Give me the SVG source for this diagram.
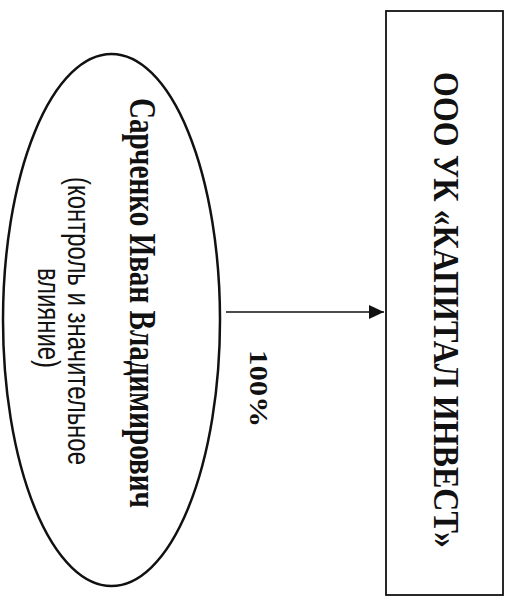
<svg xmlns="http://www.w3.org/2000/svg" width="509" height="600" viewBox="0 0 509 600">
  <style>
    .shape { fill: none; stroke: #111; }
    .bold { font-family: "Liberation Serif", "Times New Roman", serif; font-weight: bold; fill: #111; }
    .reg { font-family: "Liberation Sans", Arial, sans-serif; fill: #111; }
  </style>
  <defs>
    <marker id="arrow" markerWidth="16" markerHeight="14" refX="15" refY="7" orient="auto" markerUnits="userSpaceOnUse">
      <path d="M0,0 L15,7 L0,14 Z" fill="#111"/>
    </marker>
  </defs>
  <rect width="509" height="600" fill="#fff"/>

  <g id="company">
    <rect class="shape" x="386" y="11" width="117" height="584" stroke-width="1.8"/>
    <text class="bold" font-size="31.5" transform="translate(434,72) rotate(90) scale(1,1.11)" textLength="476" lengthAdjust="spacingAndGlyphs">ООО УК «КАПИТАЛ ИНВЕСТ»</text>
  </g>

  <g id="owner">
    <ellipse class="shape" cx="111.5" cy="320" rx="108.5" ry="266" stroke-width="2.5"/>
    <text class="bold" font-size="29.5" transform="translate(130,98) rotate(90) scale(1,1.25)" textLength="410" lengthAdjust="spacingAndGlyphs">Сарченко Иван Владимирович</text>
    <text class="reg" font-size="24" transform="translate(68,177) rotate(90) scale(1,1.33)" textLength="288" lengthAdjust="spacingAndGlyphs">(контроль и значительное</text>
    <text class="reg" font-size="24" transform="translate(38,268) rotate(90) scale(1,1.33)" textLength="100" lengthAdjust="spacingAndGlyphs">влияние)</text>
  </g>

  <g id="connectors">
    <line class="shape" x1="226" y1="312" x2="384" y2="312" stroke-width="1.5" marker-end="url(#arrow)"/>
    <text class="bold" font-size="26" transform="translate(250,350) rotate(90)" textLength="77" lengthAdjust="spacingAndGlyphs">100%</text>
  </g>
</svg>
